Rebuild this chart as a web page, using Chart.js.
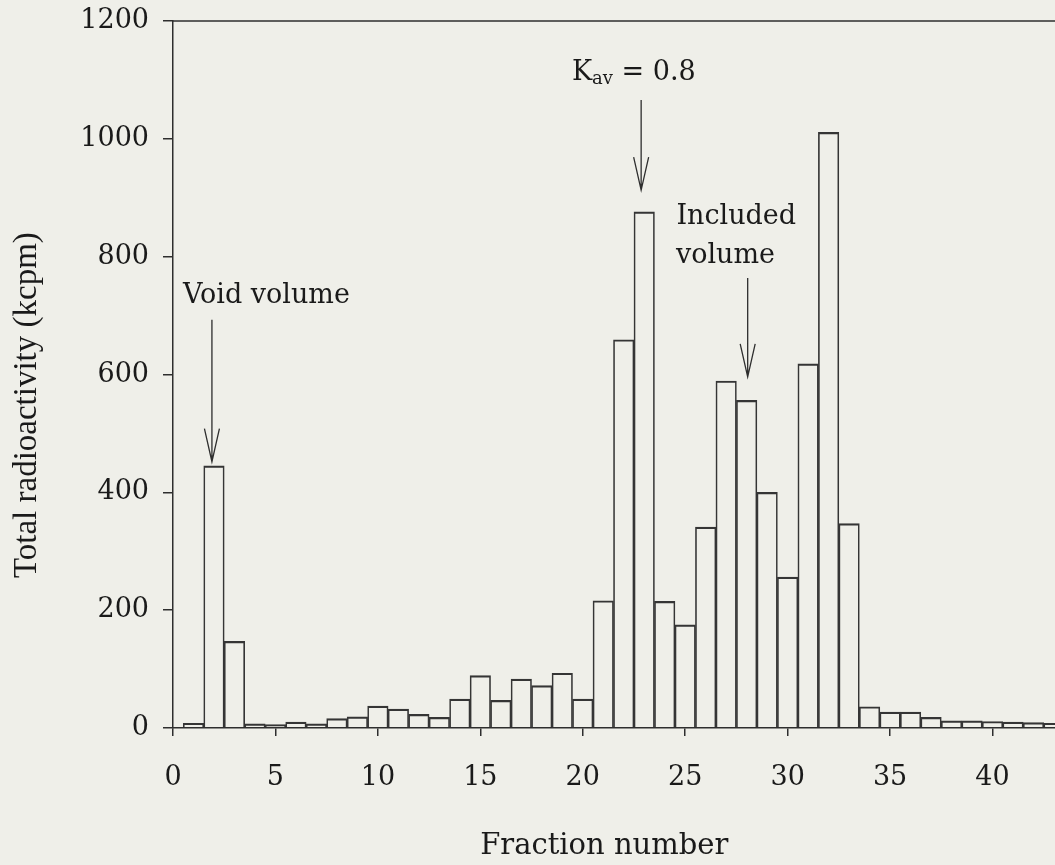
<!DOCTYPE html>
<html>
<head>
<meta charset="utf-8">
<script src="https://cdn.jsdelivr.net/npm/chart.js@4/dist/chart.umd.min.js"></script>
<style>
  html, body { margin: 0; padding: 0; background: #efefe9; }
  #wrap { width: 1055px; height: 865px; position: relative; }
</style>
</head>
<body>
<div id="wrap"><canvas id="fracChart"></canvas></div>
<script>
// Fraction profile: total radioactivity per column fraction
const fractions = [];
for (let i = 1; i <= 43; i++) fractions.push(i);
const activity = [
  8, 445, 147, 7, 6, 10, 7, 16, 19, 37,
  32, 23, 18, 49, 89, 47, 83, 72, 93, 49,
  216, 659, 876, 215, 175, 341, 589, 556, 400, 256,
  618, 1011, 347, 36, 27, 27, 18, 12, 12, 11,
  10, 9, 8
];
const xTicks = [0, 5, 10, 15, 20, 25, 30, 35, 40];
const yTicks = [0, 200, 400, 600, 800, 1000, 1200];

// annotation arrows, in data units (fraction, kcpm)
const arrowX = [1.9, 22.85, 28.05];
const arrowFrom = [693, 1066, 764];
const arrowTo = [452, 913, 596];
// plain text notes (left edge, baseline)
const noteText = ["Void volume", "Included", "volume"];
const noteX = [0.49, 24.57, 24.55];
const noteY = [721, 856, 790];
// K_av label
const kavX = 19.47;
const kavY = 1100;
const yTitle = "Total radioactivity (kcpm)";
const xTitle = "Fraction number";

const ink = "#2e2e2e";
const textInk = "#1a1a1a";
const serif = "'DejaVu Serif', serif";

const notesPlugin = {
  id: "notes",
  afterDatasetsDraw(chart) {
    const { ctx, chartArea, scales: { x, y } } = chart;
    ctx.save();
    // top frame line
    ctx.strokeStyle = ink;
    ctx.lineWidth = 1.5;
    ctx.beginPath();
    ctx.moveTo(chartArea.left, chartArea.top);
    ctx.lineTo(chartArea.right, chartArea.top);
    ctx.stroke();

    // arrows with open heads
    ctx.lineWidth = 1.3;
    arrowX.forEach((ax, i) => {
      const px = x.getPixelForValue(ax);
      const y0 = y.getPixelForValue(arrowFrom[i]);
      const y1 = y.getPixelForValue(arrowTo[i]);
      ctx.beginPath();
      ctx.moveTo(px, y0);
      ctx.lineTo(px, y1);
      ctx.moveTo(px - 7.5, y1 - 33);
      ctx.lineTo(px, y1);
      ctx.lineTo(px + 7.5, y1 - 33);
      ctx.stroke();
    });

    ctx.fillStyle = textInk;
    ctx.textBaseline = "alphabetic";
    ctx.textAlign = "left";
    ctx.font = "27px " + serif;
    noteText.forEach((t, i) => {
      ctx.fillText(t, x.getPixelForValue(noteX[i]), y.getPixelForValue(noteY[i]));
    });

    // K with subscript av
    let kx = x.getPixelForValue(kavX);
    const ky = y.getPixelForValue(kavY);
    ctx.fillText("K", kx, ky);
    kx += ctx.measureText("K").width;
    ctx.font = "18px " + serif;
    ctx.fillText("av", kx, ky + 4);
    kx += ctx.measureText("av").width;
    ctx.font = "27px " + serif;
    ctx.fillText(" = 0.8", kx, ky);

    // x axis title
    ctx.textAlign = "center";
    ctx.textBaseline = "middle";
    ctx.font = "29px " + serif;
    ctx.fillText(xTitle, x.getPixelForValue(21.05), chart.height - 19);

    // y axis title, centred a little below the middle of the axis
    ctx.translate(27, y.getPixelForValue(548));
    ctx.rotate(-Math.PI / 2);
    ctx.font = "33px 'Liberation Serif', serif";
    ctx.fillText(yTitle, 0, 0);
    ctx.restore();
  }
};

const chart = new Chart(document.getElementById("fracChart"), {
  type: "bar",
  data: {
    datasets: [{
      data: fractions.map((f, i) => ({ x: f, y: activity[i] })),
      backgroundColor: "rgba(0,0,0,0)",
      borderColor: "#353535",
      borderWidth: { top: 1.5, left: 1, right: 1, bottom: 0 },
      borderSkipped: "bottom",
      categoryPercentage: 1,
      barPercentage: 1
    }]
  },
  options: {
    responsive: true,
    maintainAspectRatio: false,
    animation: false,
    layout: { padding: { top: 21, right: 0, bottom: 0, left: 0 } },
    plugins: { legend: { display: false }, tooltip: { enabled: false } },
    scales: {
      x: {
        type: "linear",
        offset: false,
        min: 0,
        max: 43.05,
        afterFit: (s) => { s.height = 137; },
        afterBuildTicks: (s) => { s.ticks = xTicks.map(v => ({ value: v })); },
        grid: { offset: false, drawOnChartArea: false, drawTicks: true, tickLength: 8, color: ink, lineWidth: 1.5 },
        border: { display: true, color: ink, width: 1.5 },
        ticks: { font: { family: serif, size: 27, lineHeight: 1 }, color: textInk, padding: 28, maxRotation: 0, autoSkip: false }
      },
      y: {
        min: 0,
        max: 1200,
        afterFit: (s) => { s.width = 173; },
        afterBuildTicks: (s) => { s.ticks = yTicks.map(v => ({ value: v })); },
        grid: { drawOnChartArea: false, drawTicks: true, tickLength: 10, color: ink, lineWidth: 1.5 },
        border: { display: true, color: ink, width: 1.5 },
        ticks: { font: { family: serif, size: 27, lineHeight: 0.5 }, color: textInk, padding: 14, callback: (v) => String(v) }
      }
    }
  },
  plugins: [notesPlugin]
});
</script>
</body>
</html>
